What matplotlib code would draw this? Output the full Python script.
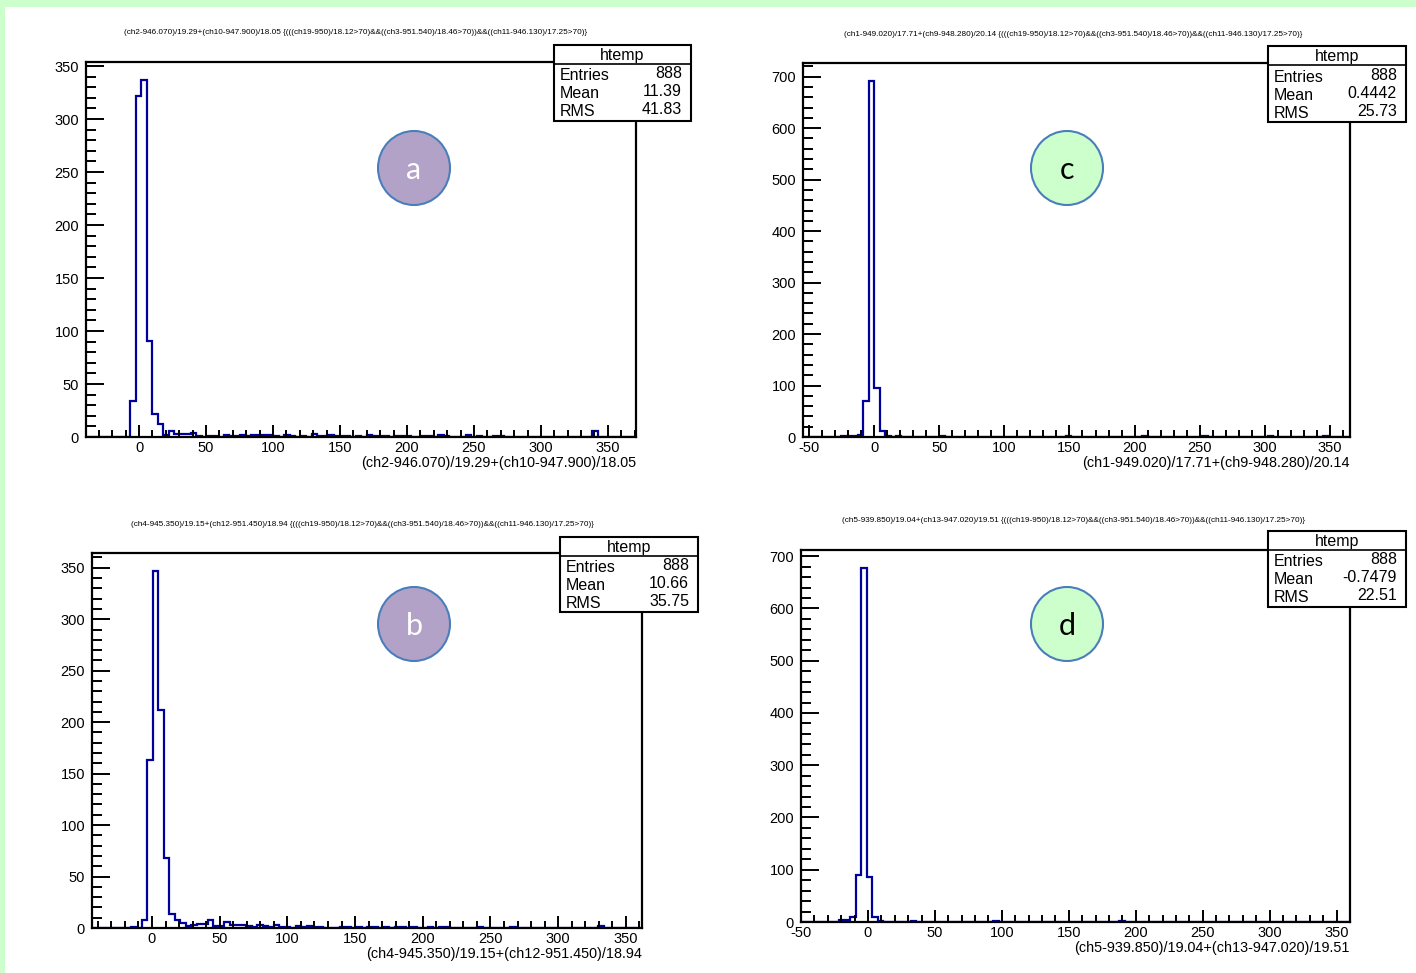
import numpy as np
import matplotlib
matplotlib.use("Agg")
import matplotlib.pyplot as plt
from matplotlib.patches import Rectangle, Ellipse
from matplotlib.lines import Line2D
from matplotlib.ticker import MultipleLocator

plt.rcParams['font.family'] = ['Liberation Sans', 'DejaVu Sans']
plt.rcParams['axes.unicode_minus'] = False

W, H = 1416, 973

# ---- data (100 bins per histogram) ----
counts_a = [0, 0, 0, 0, 0, 0, 0, 0, 34, 322,
            337, 91, 22, 12, 2, 6, 3, 3, 3, 4,
            1, 0, 1, 1, 0, 2, 1, 1, 2, 1,
            2, 2, 2, 2, 1, 0, 2, 1, 0, 1,
            0, 3, 1, 1, 2, 1, 1, 1, 0, 1,
            0, 2, 1, 1, 1, 0, 1, 1, 1, 0,
            0, 1, 1, 0, 2, 1, 0, 0, 0, 2,
            0, 1, 0, 0, 1, 1, 0, 0, 0, 0,
            0, 0, 0, 0, 0, 0, 0, 0, 0, 0,
            0, 0, 6, 0, 0, 0, 0, 0, 0, 0]
counts_b = [0, 0, 0, 0, 0, 0, 0, 1, 0, 8,
            163, 347, 212, 68, 14, 8, 5, 2, 3, 4,
            4, 8, 2, 2, 6, 3, 3, 3, 2, 1,
            3, 2, 1, 3, 1, 1, 0, 2, 1, 2,
            1, 1, 0, 0, 0, 1, 1, 0, 1, 0,
            1, 1, 0, 1, 0, 1, 1, 0, 1, 0,
            0, 1, 0, 1, 1, 0, 0, 0, 0, 0,
            1, 0, 0, 0, 0, 0, 1, 0, 0, 0,
            0, 0, 0, 0, 0, 0, 0, 0, 0, 0,
            0, 0, 2, 0, 0, 0, 0, 0, 0, 0]
counts_c = [0, 0, 0, 0, 0, 0, 0, 1, 1, 2,
            4, 70, 692, 95, 11, 2, 0, 1, 0, 0,
            0, 0, 0, 0, 0, 1, 0, 0, 0, 0,
            0, 0, 0, 0, 0, 0, 0, 0, 0, 0,
            0, 0, 0, 0, 0, 0, 0, 0, 1, 0,
            0, 0, 0, 0, 0, 0, 0, 0, 0, 0,
            0, 0, 1, 0, 0, 0, 0, 0, 0, 0,
            0, 0, 0, 1, 0, 0, 0, 0, 0, 0,
            0, 0, 0, 0, 0, 1, 0, 0, 0, 0,
            0, 0, 0, 0, 0, 1, 0, 0, 0, 0]
counts_d = [0, 0, 0, 0, 0, 0, 0, 3, 3, 10,
            89, 678, 87, 10, 2, 0, 0, 0, 0, 0,
            1, 0, 0, 0, 0, 0, 0, 0, 0, 0,
            0, 0, 0, 0, 0, 1, 0, 0, 0, 0,
            0, 0, 0, 0, 0, 0, 0, 0, 0, 0,
            0, 0, 0, 0, 0, 0, 0, 0, 2, 0,
            0, 0, 0, 0, 0, 0, 0, 0, 0, 0,
            0, 0, 0, 0, 0, 0, 0, 0, 0, 0,
            0, 0, 0, 0, 0, 0, 0, 0, 0, 0,
            0, 0, 0, 0, 0, 0, 0, 0, 0, 0]

x_ranges = [(-39.6, 371.0), (-44.3, 361.9), (-54.6, 365.4), (-50.0, 360.0)]
x_titles = ["(ch2-946.070)/19.29+(ch10-947.900)/18.05",
            "(ch4-945.350)/19.15+(ch12-951.450)/18.94",
            "(ch1-949.020)/17.71+(ch9-948.280)/20.14",
            "(ch5-939.850)/19.04+(ch13-947.020)/19.51"]
selection = "{(((ch19-950)/18.12>70)&&((ch3-951.540)/18.46>70))&&((ch11-946.130)/17.25>70)}"
entries = ["888", "888", "888", "888"]
means = ["11.39", "10.66", "0.4442", "-0.7479"]
rmss = ["41.83", "35.75", "25.73", "22.51"]
letters = ["a", "b", "c", "d"]

all_counts = [counts_a, counts_b, counts_c, counts_d]

# ---- layout in pixels: axes (left, top, right, bottom), title centre, stat box, circle ----
layout = [
    dict(ax=(86, 62, 636, 437), title=(356, 33), box=(554, 45, 691, 121, 64),
         circ=(414, 168), ymaj=50, fill='#b3a2c7', tc='white'),
    dict(ax=(92, 553, 642, 928), title=(362, 525), box=(560, 537, 698, 612, 556),
         circ=(414, 624), ymaj=50, fill='#b3a2c7', tc='white'),
    dict(ax=(803, 63, 1350, 437), title=(1073, 35), box=(1268, 46, 1406, 122, 65),
         circ=(1067, 168), ymaj=100, fill='#ccffcc', tc='black'),
    dict(ax=(801, 550, 1350, 922), title=(1073, 521), box=(1268, 531, 1406, 607, 550),
         circ=(1067, 624), ymaj=100, fill='#ccffcc', tc='black'),
]

fig = plt.figure(figsize=(W / 100, H / 100), dpi=100)
fig.patch.set_facecolor('#ccffcc')
fig.add_artist(Rectangle((5 / W, 0), 1 - 5 / W, 1 - 7 / H, transform=fig.transFigure,
                         facecolor='white', edgecolor='none', zorder=-1))


def fx(x):
    return x / W


def fy(y):
    return 1 - y / H


for i, L in enumerate(layout):
    l, t, r, b = L['ax']
    ax = fig.add_axes([fx(l), fy(b), (r - l) / W, (b - t) / H])
    counts = all_counts[i]
    xmin, xmax = x_ranges[i]
    edges = np.linspace(xmin, xmax, len(counts) + 1)
    ax.stairs(counts, edges, color='#00009c', lw=1.6)
    ax.set_xlim(xmin, xmax)
    ax.set_ylim(0, 1.05 * max(counts))

    ax.xaxis.set_major_locator(MultipleLocator(50))
    ax.xaxis.set_minor_locator(MultipleLocator(10))
    ax.yaxis.set_major_locator(MultipleLocator(L['ymaj']))
    ax.yaxis.set_minor_locator(MultipleLocator(L['ymaj'] / 5))
    ax.tick_params(which='both', direction='in', top=False, right=False,
                   width=1.4, labelsize=10.5, color='black')
    ax.tick_params(axis='y', which='major', length=13, pad=5)
    ax.tick_params(axis='y', which='minor', length=7)
    ax.tick_params(axis='x', which='major', length=9, pad=3)
    ax.tick_params(axis='x', which='minor', length=5)
    for s in ax.spines.values():
        s.set_linewidth(1.6)

    ax.text(1.0, -(26 / (b - t)), x_titles[i], transform=ax.transAxes,
            ha='right', va='center', fontsize=10.4)

    # title
    cx, cy = L['title']
    fig.text(fx(cx), fy(cy), x_titles[i] + " " + selection, fontsize=5.9,
             ha='center', va='center')

    # stats box
    x0, y0, x1, y1, yd = L['box']
    fig.add_artist(Rectangle((fx(x0), fy(y1)), (x1 - x0) / W, (y1 - y0) / H,
                             transform=fig.transFigure, facecolor='white',
                             edgecolor='black', lw=1.5, zorder=5))
    fig.add_artist(Line2D([fx(x0), fx(x1)], [fy(yd), fy(yd)], transform=fig.transFigure,
                          color='black', lw=1.2, zorder=6))
    fig.text(fx((x0 + x1) / 2), fy((y0 + yd) / 2 + 1), "htemp", fontsize=11.5,
             ha='center', va='center', zorder=7)
    rows = [("Entries", entries[i]), ("Mean", means[i]), ("RMS", rmss[i])]
    for k, (lab, val) in enumerate(rows):
        yy = yd + 12 + 18 * k
        fig.text(fx(x0 + 6), fy(yy), lab, fontsize=11.5, ha='left', va='center', zorder=7)
        fig.text(fx(x1 - 9), fy(yy - 2), val, fontsize=11.5, ha='right', va='center', zorder=7)

    # letter circle
    ccx, ccy = L['circ']
    fig.add_artist(Ellipse((fx(ccx), fy(ccy)), 72 / W, 74 / H, transform=fig.transFigure,
                           facecolor=L['fill'], edgecolor='#4a7ebb', lw=1.5, zorder=5))
    fig.text(fx(ccx), fy(ccy + 2), letters[i], fontsize=22, color=L['tc'],
             family=['Lato', 'DejaVu Sans'], ha='center', va='center', zorder=6)

fig.savefig("out.png", dpi=100, facecolor=fig.get_facecolor())
